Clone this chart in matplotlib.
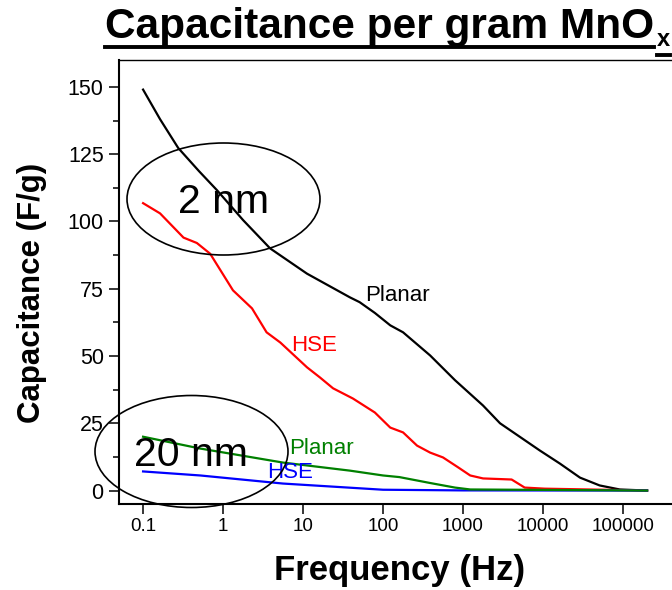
import numpy as np
import matplotlib
matplotlib.use("Agg")
import matplotlib.pyplot as plt
from matplotlib.patches import Ellipse
from matplotlib.lines import Line2D

plt.rcParams['font.family'] = ['Liberation Sans', 'DejaVu Sans']

# 2 nm film, planar electrode
f_planar_2 = [0.1, 0.163, 0.275, 0.5, 0.84, 1.78, 3.87, 11.2, 38.5, 51, 79, 123, 178,
              388, 794, 1778, 2900, 9100, 16300, 29000, 51000, 91000, 200000]
c_planar_2 = [149, 138, 127.3, 118.7, 111.6, 100.5, 90, 80.6, 71.8, 70, 66, 61.4, 58.8,
              50.2, 41, 31.6, 25, 14.9, 10, 4.8, 1.9, 0.4, 0]

# 2 nm film, HSE electrode
f_hse_2 = [0.1, 0.163, 0.32, 0.47, 0.69, 1.33, 2.3, 3.5, 5.2, 11.2, 16.3, 23.7,
           42, 79, 123, 178, 266, 388, 562, 870, 1230, 1780, 4050, 5900, 10500, 200000]
c_hse_2 = [106.8, 103, 94, 92, 88, 74.4, 67.7, 58.8, 55, 45.8, 42, 38,
           34.2, 29, 23.4, 21.6, 16.7, 14.1, 12.3, 8.6, 5.6, 4.5, 4.1, 1.1, 0.7, 0]

# 20 nm film, planar electrode
f_planar_20 = [0.1, 0.52, 5.6, 38.5, 100, 160, 388, 794, 1230, 200000]
c_planar_20 = [20, 15.6, 10.4, 7.4, 5.6, 5.0, 2.8, 1.1, 0.4, 0]

# 20 nm film, HSE electrode
f_hse_20 = [0.1, 0.52, 5.6, 100, 1000, 200000]
c_hse_20 = [7.1, 5.6, 2.6, 0.3, 0.05, 0]

x_ticks = [0.1, 1, 10, 100, 1000, 10000, 100000]
x_tick_labels = ["0.1", "1", "10", "100", "1000", "10000", "100000"]
y_ticks = [0, 25, 50, 75, 100, 125, 150]

W, H = 672, 590
fig = plt.figure(figsize=(W / 100, H / 100), dpi=100)
ax = fig.add_axes([119 / W, 1 - 504 / H, (703 - 119) / W, (504 - 60) / H])

lw = 1.6
ax.plot(f_planar_2, c_planar_2, color='black', lw=lw)
ax.plot(f_hse_2, c_hse_2, color='#ff0000', lw=lw)
ax.plot(f_hse_20, c_hse_20, color='#0000ff', lw=lw)
ax.plot(f_planar_20, c_planar_20, color='#008000', lw=lw)

ax.set_xscale('log')
ax.set_xlim(0.05, 1e6)
ax.set_ylim(-5, 160)
ax.set_xticks(x_ticks)
ax.set_xticklabels(x_tick_labels)
ax.xaxis.set_minor_locator(matplotlib.ticker.NullLocator())
ax.set_yticks(y_ticks)
ax.set_yticks(np.arange(12.5, 150, 25), minor=True)

ax.tick_params(axis='y', which='major', direction='out', length=7, width=1.1,
               labelsize=15.5, pad=4)
ax.tick_params(axis='y', which='minor', direction='out', length=4, width=1.1)
ax.tick_params(axis='x', which='major', direction='out', length=7, width=1.1,
               labelsize=13.5, pad=3)

for side in ['left', 'bottom']:
    ax.spines[side].set_linewidth(1.5)
ax.spines['top'].set_linewidth(1.0)
ax.spines['right'].set_visible(False)

# curve labels
ax.text(150, 72.6, "Planar", color='black', fontsize=16, ha='center', va='center')
ax.text(13.8, 54, "HSE", color='#ff0000', fontsize=16, ha='center', va='center')
ax.text(16.8, 15.6, "Planar", color='#008000', fontsize=16, ha='center', va='center')
ax.text(6.9, 6.7, "HSE", color='#0000ff', fontsize=16, ha='center', va='center')

# film thickness groups, circled
for cx, cy, label in [(223.5, 199, "2 nm"), (191.5, 451.5, "20 nm")]:
    fig.patches.append(Ellipse((cx / W, 1 - cy / H), 193 / W, 112 / H,
                               transform=fig.transFigure, fill=False,
                               edgecolor='black', lw=1.2))
    fig.text(cx / W, 1 - (cy + 3) / H, label, fontsize=29.5, ha='center', va='center')

fig.text(400 / W, 1 - 580 / H, "Frequency (Hz)", fontsize=25, fontweight='bold',
         ha='center', va='baseline')
fig.text(32 / W, 1 - 293 / H, "Capacitance (F/g)", fontsize=22.5, fontweight='bold',
         rotation=90, ha='center', va='center')

# underlined title with subscript
title = fig.text(105 / W, 1 - 38 / H, "Capacitance per gram MnO", fontsize=30.5,
                 fontweight='bold', ha='left', va='baseline')
fig.canvas.draw()
renderer = fig.canvas.get_renderer()
tb = title.get_window_extent(renderer)
sub = fig.text((tb.x1 + 3) / W, 1 - 46 / H, "x", fontsize=17, fontweight='bold',
               ha='left', va='baseline')
fig.canvas.draw()
sb = sub.get_window_extent(renderer)
fig.lines.append(Line2D([tb.x0 / W, tb.x1 / W], [1 - 47 / H, 1 - 47 / H],
                        transform=fig.transFigure, color='black', lw=2.8))
fig.lines.append(Line2D([sb.x0 / W, sb.x1 / W], [1 - 54.5 / H, 1 - 54.5 / H],
                        transform=fig.transFigure, color='black', lw=2.8))

fig.savefig("out.png", dpi=100)
